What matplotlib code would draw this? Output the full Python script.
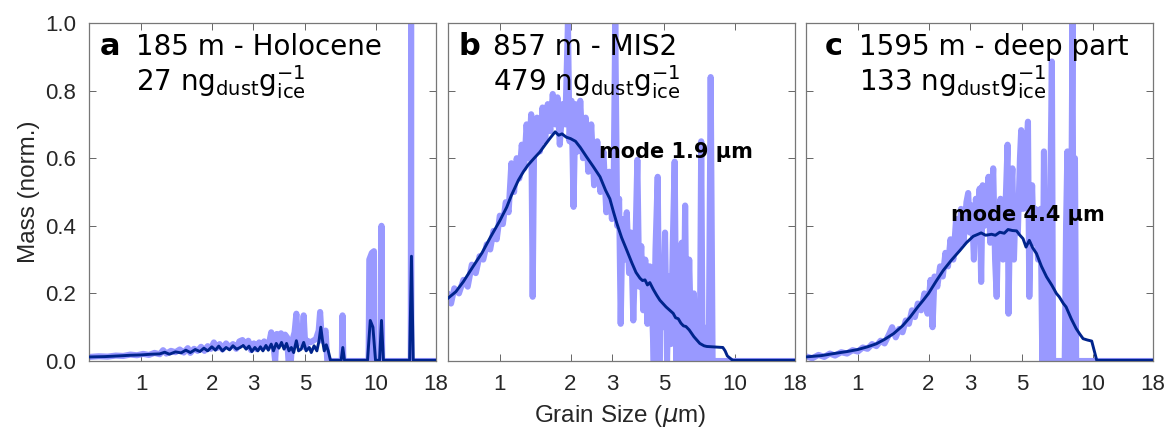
import numpy as np
import matplotlib
matplotlib.use("Agg")
import matplotlib.pyplot as plt

plt.rcParams['mathtext.fontset'] = 'dejavusans'

# panel a (185 m, Holocene)
xa_raw = [0.60, 0.66, 0.72, 0.78, 0.84, 0.90, 0.96, 1.02, 1.08, 1.14, 1.20, 1.24, 1.28, 1.34, 1.40, 1.46,
          1.52, 1.58, 1.62, 1.68, 1.74, 1.80, 1.86, 1.92, 1.98, 2.04, 2.10, 2.16, 2.22, 2.30, 2.38, 2.46,
          2.54, 2.62, 2.70, 2.78, 2.86, 2.94, 3.02, 3.10, 3.18, 3.26, 3.34, 3.42, 3.50, 3.58, 3.66, 3.72,
          3.78, 3.86, 3.94, 4.02, 4.10, 4.18, 4.24, 4.34, 4.40, 4.50, 4.58, 4.64, 4.72, 4.82, 4.92, 5.00,
          5.10, 5.25, 5.40, 5.55, 5.70, 5.78, 5.88, 6.00, 6.10, 6.20, 7.15, 7.20, 7.26, 9.30, 9.36, 9.60,
          9.80, 9.86, 10.48, 10.55, 10.62, 14.06, 14.10, 14.14, 18.00]
ya_raw = [0.012, 0.014, 0.013, 0.016, 0.015, 0.019, 0.017, 0.021, 0.018, 0.024, 0.020, 0.032, 0.022, 0.030, 0.026, 0.034,
          0.025, 0.038, 0.024, 0.036, 0.030, 0.042, 0.030, 0.044, 0.036, 0.055, 0.038, 0.050, 0.034, 0.052, 0.040, 0.050,
          0.036, 0.058, 0.062, 0.048, 0.060, 0.032, 0.052, 0.035, 0.055, 0.040, 0.058, 0.042, 0.050, 0.085, 0.045, 0.000,
          0.080, 0.060, 0.082, 0.050, 0.078, 0.070, 0.000, 0.000, 0.060, 0.085, 0.140, 0.070, 0.060, 0.050, 0.135, 0.040,
          0.060, 0.055, 0.060, 0.065, 0.090, 0.145, 0.060, 0.080, 0.090, 0.000, 0.000, 0.135, 0.000, 0.000, 0.300, 0.320,
          0.325, 0.000, 0.000, 0.400, 0.000, 0.000, 1.000, 0.000, 0.000]
xa_s = [0.60, 0.70, 0.80, 0.90, 1.00, 1.10, 1.20, 1.26, 1.32, 1.40, 1.48, 1.55, 1.62, 1.70, 1.78, 1.85,
        1.92, 2.00, 2.07, 2.14, 2.22, 2.30, 2.38, 2.46, 2.55, 2.64, 2.72, 2.80, 2.88, 2.96, 3.05, 3.14,
        3.22, 3.30, 3.40, 3.48, 3.58, 3.66, 3.76, 3.86, 3.96, 4.06, 4.16, 4.26, 4.36, 4.46, 4.58, 4.68,
        4.80, 4.92, 5.04, 5.20, 5.30, 5.45, 5.60, 5.72, 5.82, 5.92, 6.02, 6.14, 6.26, 6.40, 7.10, 7.22,
        7.34, 9.20, 9.45, 9.70, 9.95, 10.35, 10.55, 10.75, 13.90, 14.15, 14.40, 18.00]
ya_s = [0.012, 0.013, 0.015, 0.017, 0.018, 0.020, 0.021, 0.026, 0.020, 0.027, 0.024, 0.032, 0.025, 0.034, 0.028, 0.038,
        0.030, 0.042, 0.032, 0.044, 0.030, 0.040, 0.033, 0.045, 0.035, 0.040, 0.046, 0.035, 0.044, 0.028, 0.040, 0.030,
        0.042, 0.030, 0.046, 0.032, 0.050, 0.030, 0.052, 0.038, 0.055, 0.035, 0.052, 0.030, 0.040, 0.025, 0.060, 0.030,
        0.035, 0.055, 0.030, 0.040, 0.025, 0.045, 0.030, 0.060, 0.100, 0.060, 0.030, 0.048, 0.030, 0.002, 0.002, 0.040,
        0.002, 0.002, 0.120, 0.100, 0.002, 0.002, 0.120, 0.002, 0.002, 0.310, 0.002, 0.002]

# panel b (857 m, MIS2)
xb_raw = [0.60, 0.62, 0.64, 0.67, 0.70, 0.73, 0.76, 0.79, 0.82, 0.85, 0.88, 0.91, 0.94, 0.97, 1.00, 1.03,
          1.06, 1.09, 1.12, 1.15, 1.18, 1.21, 1.24, 1.27, 1.30, 1.33, 1.36, 1.38, 1.40, 1.44, 1.48, 1.52,
          1.56, 1.60, 1.64, 1.68, 1.72, 1.76, 1.80, 1.85, 1.90, 1.95, 1.98, 2.02, 2.06, 2.10, 2.15, 2.20,
          2.26, 2.32, 2.38, 2.45, 2.52, 2.60, 2.68, 2.76, 2.84, 2.92, 3.00, 3.05, 3.10, 3.16, 3.22, 3.27,
          3.33, 3.40, 3.47, 3.55, 3.62, 3.70, 3.78, 3.85, 3.92, 4.00, 4.08, 4.16, 4.25, 4.35, 4.45, 4.52,
          4.60, 4.70, 4.78, 4.86, 4.95, 5.05, 5.15, 5.25, 5.35, 5.45, 5.55, 5.65, 5.75, 5.85, 5.95, 6.05,
          6.15, 6.25, 6.40, 6.55, 6.70, 6.85, 7.00, 7.10, 7.20, 7.30, 7.55, 7.65, 7.75, 7.90, 8.05, 18.00]
yb_raw = [0.200, 0.170, 0.215, 0.200, 0.240, 0.220, 0.285, 0.260, 0.310, 0.300, 0.345, 0.330, 0.385, 0.360, 0.430, 0.405,
          0.470, 0.440, 0.585, 0.500, 0.600, 0.540, 0.640, 0.570, 0.700, 0.600, 0.730, 0.190, 0.650, 0.720, 0.620, 0.750,
          0.650, 0.760, 0.680, 0.790, 0.700, 0.780, 0.640, 0.760, 0.700, 1.000, 0.650, 0.770, 0.456, 0.760, 0.620, 0.770,
          0.600, 0.720, 0.560, 0.700, 0.520, 0.650, 0.500, 0.620, 0.440, 0.560, 0.420, 0.500, 1.000, 0.400, 0.480, 0.110,
          0.420, 0.300, 0.440, 0.260, 0.380, 0.120, 0.350, 0.595, 0.220, 0.340, 0.150, 0.300, 0.110, 0.280, 0.150, 0.000,
          0.330, 0.545, 0.000, 0.300, 0.100, 0.380, 0.000, 0.250, 0.050, 0.350, 0.590, 0.000, 0.300, 0.050, 0.350, 0.000,
          0.460, 0.000, 0.300, 0.000, 0.200, 0.000, 0.150, 0.000, 0.650, 0.000, 0.000, 0.100, 0.000, 0.840, 0.000, 0.000]
xb_s = [0.60, 0.65, 0.70, 0.77, 0.84, 0.91, 1.00, 1.07, 1.12, 1.20, 1.26, 1.32, 1.40, 1.48, 1.56, 1.64,
        1.72, 1.78, 1.84, 1.92, 2.00, 2.10, 2.20, 2.34, 2.50, 2.67, 2.82, 2.94, 3.05, 3.15, 3.30, 3.47,
        3.65, 3.80, 3.95, 4.05, 4.15, 4.25, 4.35, 4.50, 4.65, 4.80, 5.10, 5.47, 5.60, 5.75, 5.90, 6.05,
        6.20, 6.40, 6.70, 7.10, 7.40, 7.60, 8.00, 8.90, 9.10, 9.30, 9.80, 18.00]
yb_s = [0.185, 0.205, 0.235, 0.280, 0.320, 0.365, 0.415, 0.455, 0.490, 0.535, 0.560, 0.580, 0.600, 0.618, 0.640, 0.660,
        0.678, 0.668, 0.672, 0.662, 0.658, 0.650, 0.632, 0.604, 0.575, 0.545, 0.505, 0.480, 0.440, 0.407, 0.365, 0.328,
        0.290, 0.262, 0.245, 0.238, 0.240, 0.225, 0.232, 0.212, 0.195, 0.180, 0.160, 0.141, 0.128, 0.125, 0.112, 0.104,
        0.102, 0.092, 0.072, 0.052, 0.045, 0.043, 0.042, 0.040, 0.030, 0.015, 0.002, 0.002]

# panel c (1595 m, deep part)
xc_raw = [0.60, 0.64, 0.68, 0.72, 0.76, 0.80, 0.85, 0.90, 0.95, 1.00, 1.05, 1.10, 1.15, 1.20, 1.25, 1.30,
          1.36, 1.40, 1.45, 1.50, 1.55, 1.60, 1.65, 1.70, 1.75, 1.80, 1.86, 1.92, 1.98, 2.04, 2.08, 2.12,
          2.18, 2.24, 2.30, 2.36, 2.42, 2.48, 2.55, 2.62, 2.68, 2.75, 2.82, 2.90, 2.95, 3.00, 3.06, 3.12,
          3.18, 3.25, 3.30, 3.35, 3.40, 3.46, 3.52, 3.60, 3.66, 3.72, 3.77, 3.84, 3.90, 3.96, 4.05, 4.15,
          4.25, 4.34, 4.38, 4.45, 4.55, 4.62, 4.70, 4.80, 4.90, 4.96, 5.05, 5.15, 5.25, 5.30, 5.37, 5.45,
          5.52, 5.60, 5.70, 5.85, 6.00, 6.10, 6.20, 6.30, 6.40, 6.50, 6.60, 6.70, 6.78, 7.60, 7.70, 7.80,
          7.90, 8.00, 8.10, 8.20, 8.30, 8.40, 8.50, 18.00]
yc_raw = [0.014, 0.008, 0.018, 0.012, 0.022, 0.016, 0.026, 0.022, 0.032, 0.028, 0.040, 0.036, 0.050, 0.044, 0.060, 0.052,
          0.080, 0.100, 0.070, 0.095, 0.085, 0.120, 0.110, 0.150, 0.130, 0.170, 0.150, 0.200, 0.140, 0.240, 0.100, 0.250,
          0.220, 0.280, 0.250, 0.320, 0.280, 0.360, 0.300, 0.420, 0.330, 0.450, 0.350, 0.470, 0.497, 0.380, 0.460, 0.300,
          0.480, 0.420, 0.510, 0.234, 0.520, 0.400, 0.460, 0.545, 0.350, 0.480, 0.570, 0.300, 0.190, 0.400, 0.480, 0.300,
          0.450, 0.640, 0.140, 0.450, 0.570, 0.300, 0.480, 0.380, 0.600, 0.683, 0.450, 0.550, 0.650, 0.708, 0.190, 0.400,
          0.520, 0.350, 0.450, 0.300, 0.450, 0.000, 0.620, 0.000, 0.480, 0.000, 0.500, 0.886, 0.000, 0.000, 0.400, 0.620,
          0.000, 0.500, 0.400, 1.000, 0.000, 0.600, 0.000, 0.000]
xc_s = [0.60, 0.70, 0.79, 0.90, 1.00, 1.10, 1.20, 1.30, 1.42, 1.55, 1.67, 1.80, 1.90, 2.00, 2.15, 2.31,
        2.50, 2.72, 2.90, 3.10, 3.25, 3.35, 3.50, 3.71, 3.85, 4.02, 4.20, 4.36, 4.55, 4.74, 4.90, 5.05,
        5.20, 5.37, 5.55, 5.76, 6.05, 6.36, 6.70, 7.00, 7.20, 7.50, 7.70, 8.10, 8.50, 8.80, 9.10, 9.50,
        9.90, 10.40, 18.00]
yc_s = [0.012, 0.016, 0.022, 0.028, 0.034, 0.042, 0.051, 0.064, 0.081, 0.104, 0.130, 0.160, 0.180, 0.200, 0.235, 0.268,
        0.298, 0.327, 0.350, 0.369, 0.375, 0.379, 0.372, 0.375, 0.372, 0.381, 0.378, 0.389, 0.386, 0.385, 0.372, 0.362,
        0.337, 0.357, 0.335, 0.318, 0.280, 0.249, 0.224, 0.200, 0.190, 0.170, 0.160, 0.125, 0.096, 0.080, 0.066, 0.062,
        0.059, 0.002, 0.002]

letters = ['a', 'b', 'c']
titles = ['185 m - Holocene', '857 m - MIS2', '1595 m - deep part']
conc = ['27', '479', '133']
modes = [None, 'mode 1.9 \u00b5m', 'mode 4.4 \u00b5m']
mode_pos = [None, (0.436, 0.618), (0.42, 0.432)]
letter_x = [0.03, 0.03, 0.055]
title_x = [0.135, 0.13, 0.153]
xticks = [1, 2, 3, 5, 10, 18]

raw = [(xa_raw, ya_raw), (xb_raw, yb_raw), (xc_raw, yc_raw)]
smooth = [(xa_s, ya_s), (xb_s, yb_s), (xc_s, yc_s)]

light = '#9999ff'
dark = '#00248c'
tickfont = 'Liberation Sans'

fig = plt.figure(figsize=(11.68, 4.36), dpi=100)
lefts = [89 / 1168, 447.7 / 1168, 805.7 / 1168]
for i in range(3):
    ax = fig.add_axes([lefts[i], 75 / 436, 347 / 1168, 338 / 436])
    ax.plot(raw[i][0], raw[i][1], color=light, lw=4.4, solid_joinstyle='round',
            solid_capstyle='round', zorder=2)
    ax.plot(smooth[i][0], smooth[i][1], color=dark, lw=2.1, zorder=3)
    ax.set_xscale('log')
    ax.set_xlim(0.6, 18)
    ax.set_ylim(0, 1.0)
    ax.set_xticks(xticks)
    ax.set_xticklabels([str(t) for t in xticks], fontsize=16, family=tickfont, color='#262626')
    ax.xaxis.set_minor_locator(matplotlib.ticker.NullLocator())
    ax.set_yticks([0, 0.2, 0.4, 0.6, 0.8, 1.0])
    if i == 0:
        ax.set_yticklabels(['0.0', '0.2', '0.4', '0.6', '0.8', '1.0'], fontsize=16,
                           family=tickfont, color='#262626')
        ax.set_ylabel('Mass (norm.)', fontsize=17.5, family=tickfont, color='#262626', labelpad=4)
    else:
        ax.set_yticklabels([])
    ax.tick_params(direction='in', top=True, right=True, length=5, width=0.7, color='#666666', pad=9)
    for s in ax.spines.values():
        s.set_color('#777777')
        s.set_linewidth(0.9)
    ax.text(letter_x[i], 0.905, letters[i], transform=ax.transAxes, fontsize=22,
            fontweight='bold', family='DejaVu Sans', zorder=5)
    ax.text(title_x[i], 0.905, titles[i], transform=ax.transAxes, fontsize=20,
            family='DejaVu Sans', zorder=5)
    ax.text(title_x[i], 0.80, conc[i] + r' ng$_{\mathrm{dust}}$g$_{\mathrm{ice}}^{-1}$',
            transform=ax.transAxes, fontsize=20, family='DejaVu Sans', zorder=5)
    if modes[i]:
        ax.text(mode_pos[i][0], mode_pos[i][1], modes[i], transform=ax.transAxes, fontsize=15,
                fontweight='bold', family='DejaVu Sans', va='center', zorder=5)

fig.text(620 / 1168, 0.046, r'Grain Size ($\mu$m)', fontsize=17.5, family=tickfont,
         color='#262626', ha='center', va='center')
fig.savefig('out.png', dpi=100)
